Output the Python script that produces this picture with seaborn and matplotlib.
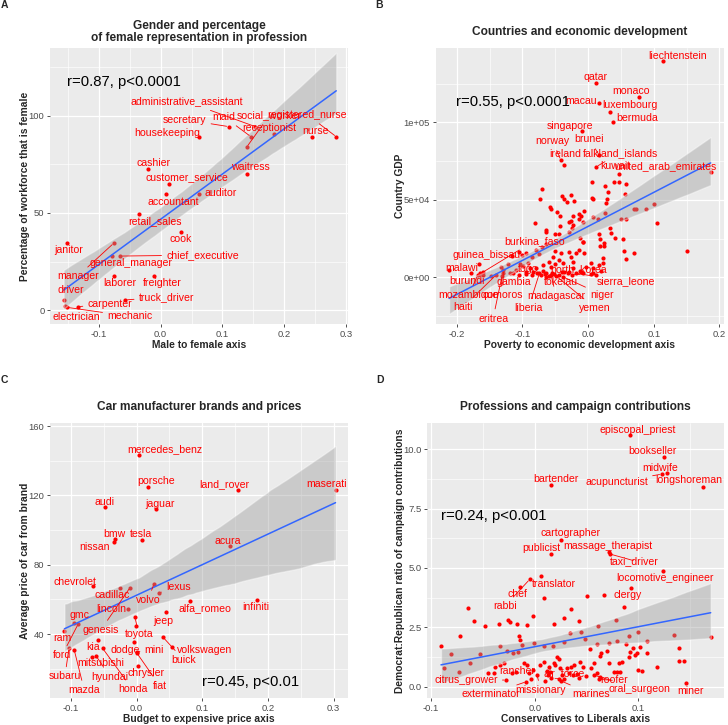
import matplotlib
matplotlib.use("Agg")
import matplotlib.pyplot as plt
import numpy as np
import pandas as pd
import seaborn as sns

# ---------------- Panel A: professions / gender ----------------
gender_names = ["administrative_assistant", "secretary", "housekeeping", "maid", "social_worker",
                "receptionist", "nurse", "registered_nurse", "cashier", "waitress", "customer_service",
                "accountant", "auditor", "retail_sales", "cook", "janitor", "manager", "general_manager",
                "chief_executive", "laborer", "freighter", "driver", "truck_driver", "carpenter",
                "electrician", "mechanic"]
gender_x = [0.153, 0.110, 0.062, 0.146, 0.139, 0.183, 0.245, 0.284, -0.021, 0.140, 0.013,
            0.008, 0.062, -0.035, 0.033, -0.151, -0.076, -0.078, -0.065, -0.075, -0.010,
            -0.157, -0.057, -0.134, -0.155, -0.152]
gender_y = [94.5, 94.5, 89.3, 89.3, 83.9, 90.6, 89.3, 89.3, 72.5, 70.3, 65.0, 59.8, 59.8,
            49.6, 40.0, 34.4, 34.4, 27.8, 27.8, 17.5, 17.5, 5.2, 5.2, 1.7, 2.1, 1.4]

# ---------------- Panel B: countries / GDP ----------------
country_names = ["liechtenstein", "qatar", "monaco", "macau", "luxembourg", "bermuda", "singapore",
                 "norway", "brunei", "ireland", "falkland_islands", "kuwait", "united_arab_emirates",
                 "burkina_faso", "guinea_bissau", "malawi", "burundi", "mozambique", "haiti", "eritrea",
                 "gambia", "comoros", "togo", "north_korea", "tokelau", "madagascar", "liberia",
                 "niger", "yemen", "sierra_leone"]
country_x = [0.1142, 0.0126, 0.0781, 0.0172, 0.0335, 0.0376, -0.0087, -0.0416, 0.0172, -0.0365,
             0.0126, 0.0472, 0.1867, -0.1598, -0.1664, -0.2116, -0.1644, -0.1679, -0.1400, -0.1309,
             -0.1190, -0.1289, -0.0832, -0.0294, -0.0513, -0.0563, -0.0741, -0.0385, -0.0487, -0.0183]
country_y = [139750, 125170, 116330, 112270, 106650, 100000, 94400, 75700, 78700, 72450,
             71360, 66650, 68130, 3420, 8580, 4710, 2580, 1490, 1490, 1160,
             2580, 4710, 3610, 3610, 2130, 1490, 2580, 390, 850, 2580]
# unlabelled countries
country_other_x = [0.0391, 0.0477, 0.0573, 0.0056, 0.0259, -0.0695, 0.0300, 0.0563, -0.0730, -0.0396,
                   -0.0259, -0.0360, -0.0324, -0.0218, 0.0056, 0.0081, 0.0289, 0.0274, 0.1010, 0.0695,
                   0.0730, 0.0883, -0.0578, -0.0568, -0.0477, -0.0426, -0.0056, -0.0132, -0.0102, -0.0142,
                   -0.0081, -0.0233, 0.0071, 0.0148, 0.0259, -0.0294, -0.0259, -0.0233, -0.0244, -0.0285,
                   -0.0426, -0.0802, -0.0644, -0.0635, -0.0507, -0.0446, 0.0502, 0.0578, 0.1046, 0.0335,
                   0.0345, 0.0172, 0.0187, -0.0122, -0.0081, 0.0406, 0.0537, 0.0239,
                   -0.0639, -0.0700, -0.0081, 0.0183, 0.0248, 0.0553, 0.0705, 0.1500, 0.0578, -0.1055,
                   -0.1005, -0.0944, -0.0791, -0.0741, -0.1157, -0.1222, -0.1324, -0.1096, -0.1035, -0.0985,
                   -0.0883, -0.0944, -0.0791, -0.0680, -0.0639, -0.0690, -0.0563, -0.0507, -0.0437, -0.0385,
                   -0.0360, -0.0309, -0.0233, -0.0122, -0.0081, -0.0030, 0.0046, 0.0071, 0.0172, 0.0224,
                   0.0224, 0.0071, -0.0259, -0.0183, -0.0132, -0.0056, -0.0537, -0.0598, -0.1780, -0.1600,
                   -0.0639, -0.0223, -0.0411, -0.0497, -0.0294, -0.0852, -0.0918,
                   -0.1150, -0.1050, -0.0950, -0.0850, -0.0780, -0.0720, -0.0660, -0.0600, -0.0550, -0.0450,
                   -0.0400, -0.0250, -0.0100, 0.0050, 0.0120, 0.0200, -0.1300, -0.1480]
country_other_y = [61680, 61680, 60000, 61680, 58910, 56970, 55040, 53940, 50330, 52460,
                   53100, 50330, 48780, 49420, 51360, 50330, 50330, 48130, 47100, 44260,
                   44260, 44260, 45550, 44070, 41940, 39550, 42970, 40840, 39550, 37420,
                   35870, 39550, 39100, 37420, 41680, 35870, 36320, 33740, 31610, 29420,
                   33290, 35230, 30520, 29030, 27940, 27940, 37420, 37420, 34840, 31610,
                   28780, 27940, 24710, 25550, 22780, 25550, 24520, 22320,
                   21490, 19360, 22970, 20190, 20190, 17160, 15480, 16970, 11810, 16520,
                   14390, 15480, 17610, 15030, 13740, 8580, 6450, 4710, 8390, 7290,
                   5810, 3610, 5810, 4260, 2580, 7940, 6840, 8580, 11160, 9030,
                   3610, 2580, 5810, 4260, 2580, 6840, 9030, 5810, 7940, 12260,
                   9030, 2580, 13290, 15480, 17610, 15870, 13290, 10070, 2970, 1480,
                   390, 10070, 15480, 17160, 16520, 13290, 9030,
                   2500, 1800, 2200, 1500, 2800, 1200, 2000, 1000, 3000, 1800,
                   3200, 1200, 3500, 2000, 1500, 4000, 3000, 800]

# ---------------- Panel C: car brands / price ----------------
car_names = ["mercedes_benz", "porsche", "land_rover", "maserati", "audi", "jaguar", "bmw", "tesla",
             "nissan", "acura", "chevrolet", "cadillac", "genesis", "lincoln", "volvo", "lexus",
             "alfa_romeo", "infiniti", "jeep", "gmc", "ram", "ford", "toyota", "", "buick",
             "volkswagen", "kia", "dodge", "mini", "fiat", "subaru", "mazda", "honda", "hyundai",
             "mitsubishi", "chrysler"]
car_x = [0.0035, 0.018, 0.155, 0.303, -0.048, 0.030, -0.0326, 0.0085, -0.035, 0.142, -0.067,
         -0.0255, -0.0102, -0.0128, 0.0264, 0.0345, 0.081, 0.184, 0.045, -0.0956, -0.110, -0.0893,
         -0.0026, -0.0011, 0.0396, 0.0534, -0.0595, -0.0041, 0.0009, 0.0, -0.1032, -0.0951,
         -0.0518, -0.062, -0.0681, 0.0015]
car_y = [143.1, 125.0, 123.1, 123.1, 113.3, 112.2, 95.0, 94.1, 93.1, 91.0, 67.9, 66.7, 66.7,
         54.6, 68.9, 63.8, 59.0, 59.6, 52.9, 46.5, 41.7, 45.6, 49.6, 44.6, 38.4, 32.7, 36.5,
         35.6, 29.8, 29.2, 31.7, 30.8, 31.7, 27.5, 26.7, 21.5]

# ---------------- Panel D: professions / donations ----------------
donor_names = ["episcopal_priest", "bookseller", "midwife", "acupuncturist", "longshoreman",
               "bartender", "cartographer", "publicist", "massage_therapist", "taxi_driver",
               "locomotive_engineer", "translator", "rabbi", "chef", "clergy", "citrus_grower",
               "exterminator", "rancher", "air_force", "missionary", "marines", "roofer",
               "oral_surgeon", "miner"]
donor_x = [0.0918, 0.1246, 0.1278, 0.1223, 0.162, 0.016, 0.0256, 0.016, 0.0716, 0.0722, 0.1233,
           0.0061, -0.0048, -0.0139, 0.0928, -0.0277, -0.0081, -0.0036, 0.0102, 0.0022, 0.025,
           0.0617, 0.0568, 0.1458]
donor_y = [10.59, 9.69, 9.01, 8.95, 8.41, 8.51, 6.18, 5.59, 5.67, 5.59, 4.86, 4.66, 4.52, 4.21,
           4.14, 0.28, 0.21, 0.31, 0.25, 0.49, 0.25, 0.31, 0.49, 0.14]
donor_other_x = [0.0087, 0.0504, 0.0665, -0.0643, 0.0857, 0.035, -0.0016, 0.0279, -0.0588, -0.0257,
                 -0.0241, -0.0347, 0.0786, -0.0074, 0.0183, -0.0476, 0.0424, 0.061, -0.017, -0.0723,
                 -0.0903, -0.0806, -0.053, -0.0626, -0.0877, -0.0726, -0.0337, -0.0267, -0.0209, -0.0164,
                 -0.0154, -0.0145, -0.0122, -0.001, 0.0087, 0.0176, 0.0279, 0.0337, 0.0446, 0.0482,
                 0.053, 0.060, 0.0639, 0.0697, 0.0713, 0.0793, 0.0882, 0.0906, 0.0947, 0.0986,
                 0.1017, 0.1082, 0.1082, 0.0992, 0.1345, 0.1696, 0.1393, 0.1387, 0.1435, 0.1178,
                 0.0992, 0.1034, 0.0841, 0.0809, 0.0761, 0.0793, 0.0819, 0.0713, 0.0632, 0.0568,
                 0.0542, 0.060, 0.0465, 0.0439, 0.0382, 0.035, 0.0311, 0.0328, 0.0369, 0.0408,
                 0.0215, 0.0231, 0.0183, 0.0198, 0.0135, 0.015, 0.0247, 0.0263, 0.0231, 0.0279,
                 0.0087, 0.0054, -0.0016, -0.0074, -0.0106, -0.0058, -0.0177, -0.0219, -0.0293, -0.0337,
                 -0.038, -0.0395, -0.045, 0.0118, 0.0125, 0.016, 0.0497, 0.0632, 0.0906, 0.0921,
                 0.0969, 0.0424]
donor_other_y = [3.72, 3.83, 3.86, 3.30, 3.34, 3.26, 2.98, 2.88, 2.77, 2.81,
                 2.74, 2.64, 2.81, 2.60, 2.63, 2.57, 2.77, 2.56, 2.63, 2.15,
                 1.73, 1.36, 1.39, 1.01, 0.80, 0.61, 1.71, 1.50, 1.41, 1.45,
                 2.14, 1.97, 1.76, 1.83, 1.71, 1.71, 1.87, 2.25, 2.29, 2.00,
                 1.59, 1.79, 1.43, 1.52, 1.83, 1.94, 1.80, 2.14, 1.62, 1.43,
                 1.68, 1.92, 1.41, 2.32, 2.18, 2.08, 1.62, 1.10, 1.10, 0.84,
                 0.70, 0.67, 1.05, 1.01, 0.61, 0.61, 0.61, 1.01, 1.29, 0.99,
                 0.77, 0.56, 0.84, 1.05, 0.91, 0.84, 0.77, 0.56, 0.49, 0.53,
                 1.26, 1.15, 1.01, 0.91, 0.84, 0.61, 0.77, 0.49, 0.31, 0.31,
                 1.05, 0.91, 0.70, 0.91, 1.01, 0.56, 0.63, 0.56, 0.99, 0.91,
                 0.84, 0.59, 0.59, 0.67, 0.49, 0.35, 0.45, 0.42, 1.26, 1.47,
                 1.34, 0.37]

# label placement: offset of the label centre from its point, in pixels, and leader segment flag
gender_labels = {
    "administrative_assistant": (-69, 25, True), "secretary": (-44, 7, True), "maid": (-27, 20, True),
    "social_worker": (23, 32, True), "registered_nurse": (-29, 22, True), "nurse": (3, 6, False),
    "housekeeping": (-32, 4, False), "receptionist": (-5, 6, False), "cashier": (6, 6, False),
    "waitress": (3, 7, False), "customer_service": (18, 7, False), "accountant": (8, -8, False),
    "auditor": (22, 1, False), "retail_sales": (16, -7, False), "cook": (0, -7, False),
    "janitor": (1, -7, False), "chief_executive": (82, 1, True), "general_manager": (19, -7, False),
    "manager": (-36, -33, True), "laborer": (6, -7, False), "freighter": (8, -7, False),
    "driver": (7, 10, False), "truck_driver": (41, 3, True), "carpenter": (32, 3, True),
    "electrician": (11, -11, False), "mechanic": (63, -9, True),
}
country_labels = {
    "liechtenstein": (15, 5, False), "qatar": (-1, 6, False), "monaco": (-8, 6, False),
    "macau": (-18, 2, False), "luxembourg": (20, 7, False), "bermuda": (24, 4, False),
    "singapore": (-12, 5, False), "norway": (-8, 19, True), "brunei": (-10, 16, True),
    "ireland": (1, 11, False), "falkland_islands": (24, 14, True), "kuwait": (-4, 8, False),
    "united_arab_emirates": (-45, 6, False), "burkina_faso": (51, 31, True),
    "guinea_bissau": (8, 9, True), "malawi": (13, 2, False), "burundi": (-13, -8, False),
    "mozambique": (-9, -20, True), "haiti": (-33, -32, True), "eritrea": (-9, -43, True),
    "gambia": (4, -9, False), "comoros": (-1, -25, True), "togo": (-5, 3, False),
    "north_korea": (10, 3, False), "tokelau": (7, -8, False), "madagascar": (5, -21, True),
    "liberia": (-11, -35, True), "niger": (39, -18, True), "yemen": (39, -32, True),
    "sierra_leone": (50, -8, True),
}
car_labels = {
    "mercedes_benz": (26, 6, False), "porsche": (8, 6, False), "land_rover": (-14, 6, False),
    "maserati": (-9, 6, False), "audi": (-1, 5, False), "jaguar": (4, 5, False), "bmw": (-1, 5, False),
    "tesla": (-1, 6, False), "nissan": (-19, -5, False), "acura": (-2, 5, False),
    "chevrolet": (-18, 4, False), "cadillac": (-8, -7, False), "lexus": (19, 6, True),
    "volvo": (-6, -16, True), "lincoln": (-17, 0, False), "alfa_romeo": (15, -7, False),
    "infiniti": (-2, -7, False), "genesis": (-29, -42, True), "gmc": (6, 8, False),
    "jeep": (-3, -9, False), "ram": (-2, -7, False), "toyota": (4, -17, True),
    "ford": (-16, -31, True), "subaru": (-4, -28, True), "mazda": (10, -40, True),
    "mitsubishi": (9, -6, False), "kia": (-5, -7, False), "hyundai": (14, -21, True),
    "honda": (30, -41, True), "dodge": (-9, -8, False), "mini": (17, 2, True),
    "chrysler": (8, -7, False), "fiat": (23, -33, True), "buick": (21, -23, True),
    "volkswagen": (33, -3, False),
}
donor_labels = {
    "episcopal_priest": (8, 5, False), "bookseller": (-12, 6, False), "midwife": (-7, 5, False),
    "acupuncturist": (-45, -8, True), "longshoreman": (-14, 7, False), "bartender": (5, 6, False),
    "cartographer": (9, 7, False), "publicist": (-10, 6, False), "massage_therapist": (-1, 6, False),
    "taxi_driver": (25, -7, True), "locomotive_engineer": (2, -7, False), "translator": (13, -8, False),
    "chef": (-3, -7, False), "rabbi": (-25, -27, True), "clergy": (-3, -7, False),
    "citrus_grower": (-40, 0, True), "exterminator": (-35, -12, True), "rancher": (-14, 8, False),
    "air_force": (19, 8, False), "missionary": (4, -15, True), "marines": (30, -13, True),
    "roofer": (15, -1, True), "oral_surgeon": (46, -14, True), "miner": (5, -8, False),
}

RED = "#FF0000"
BLUE = "#3366FF"

sns.set_theme(style="darkgrid")
plt.rcParams["font.family"] = ["Liberation Sans", "DejaVu Sans"]

fig = plt.figure(figsize=(7.28, 7.25), dpi=100)


def minor_between(ticks, lim):
    t = np.asarray(ticks, float)
    step = t[1] - t[0]
    ext = np.concatenate([[t[0] - step], t, [t[-1] + step]])
    mids = (ext[:-1] + ext[1:]) / 2
    return [m for m in mids if lim[0] <= m <= lim[1]]


def draw_panel(rect, df, labels, title, xlabel, ylabel, xlim, ylim, xticks, xtl, yticks, ytl,
               rtext, rpos, letter, letter_pos):
    ax = fig.add_axes(rect)
    ax.set_facecolor("#EBEBEB")
    for s in ax.spines.values():
        s.set_visible(False)

    sns.scatterplot(data=df, x="x", y="y", color=RED, s=9, linewidth=0, ax=ax, zorder=2)
    sns.regplot(data=df, x="x", y="y", scatter=False, color=BLUE, ci=95, n_boot=1000, seed=7,
                line_kws={"lw": 1.1, "zorder": 3}, ax=ax)
    band = ax.collections[-1]
    band.set_facecolor("#999999")
    band.set_alpha(0.4)
    band.set_zorder(2.5)

    for name, px, py in zip(df["name"], df["x"], df["y"]):
        if name not in labels:
            continue
        dx, dy, seg = labels[name]
        arrow = dict(arrowstyle="-", color=RED, lw=0.6, shrinkA=1, shrinkB=1.5) if seg else None
        ax.annotate(name, (px, py), xytext=(dx, dy), textcoords="offset pixels",
                    ha="center", va="center", color=RED, fontsize=7.6, zorder=5,
                    arrowprops=arrow)

    ax.set_xlim(xlim)
    ax.set_ylim(ylim)
    ax.set_xticks(xticks, labels=xtl)
    ax.set_yticks(yticks, labels=ytl)
    ax.set_xticks(minor_between(xticks, xlim), minor=True)
    ax.set_yticks(minor_between(yticks, ylim), minor=True)
    ax.grid(which="major", color="white", lw=0.9)
    ax.grid(which="minor", color="white", lw=0.45)
    ax.set_axisbelow(True)
    ax.tick_params(which="major", length=2.5, width=0.6, color="#333333", labelsize=6.8,
                   labelcolor="#4D4D4D", pad=1.5, bottom=True, left=True)
    ax.tick_params(which="minor", length=0)

    ax.set_xlabel(xlabel, fontsize=7.4, fontweight="bold", labelpad=1)
    ax.set_ylabel(ylabel, fontsize=7.4, fontweight="bold", labelpad=-1.2)
    h_px = rect[3] * 725
    ax.text(0.5, 1 + 16 / h_px, title, transform=ax.transAxes, ha="center", va="center",
            fontsize=8.6, fontweight="bold", linespacing=1.0)
    ax.text(rpos[0], rpos[1], rtext, transform=ax.transAxes, ha="center", va="center",
            fontsize=10.7, color="black", zorder=6)
    fig.text(letter_pos[0] / 728, 1 - letter_pos[1] / 725, letter, fontsize=7.5,
             fontweight="bold", ha="center", va="center")
    return ax


gender_df = pd.DataFrame({"name": gender_names, "x": gender_x, "y": gender_y})
country_df = pd.DataFrame({"name": country_names + [""] * len(country_other_x),
                           "x": country_x + country_other_x, "y": country_y + country_other_y})
car_df = pd.DataFrame({"name": car_names, "x": car_x, "y": car_y})
donor_df = pd.DataFrame({"name": donor_names + [""] * len(donor_other_x),
                         "x": donor_x + donor_other_x, "y": donor_y + donor_other_y})

draw_panel([50 / 728, 1 - 324 / 725, 298 / 728, 276 / 725], gender_df, gender_labels,
           "Gender and percentage\nof female representation in profession",
           "Male to female axis", "Percentage of workforce that is female",
           (-0.179, 0.303), (-7.2, 135),
           [-0.1, 0.0, 0.1, 0.2, 0.3], ["-0.1", "0.0", "0.1", "0.2", "0.3"],
           [0, 50, 100], ["0", "50", "100"],
           "r=0.87, p<0.0001", (0.247, 0.877), "A", (4.5, 4.5))

draw_panel([435.7 / 728, 1 - 324 / 725, 288.3 / 728, 276 / 725], country_df, country_labels,
           "Countries and economic development",
           "Poverty to economic development axis", "Country GDP",
           (-0.232, 0.207), (-30130, 147950),
           [-0.2, -0.1, 0.0, 0.1, 0.2], ["-0.2", "-0.1", "0.0", "0.1", "0.2"],
           [0, 50000, 100000], ["0e+00", "5e+04", "1e+05"],
           "r=0.55, p<0.0001", (0.269, 0.805), "B", (379.5, 5))

draw_panel([50 / 728, 1 - 698.3 / 725, 298 / 728, 275 / 725], car_df, car_labels,
           "Car manufacturer brands and prices",
           "Budget to expensive price axis", "Average price of car from brand",
           (-0.132, 0.322), (2.9, 161.6),
           [-0.1, 0.0, 0.1, 0.2, 0.3], ["-0.1", "0.0", "0.1", "0.2", "0.3"],
           [40, 80, 120, 160], ["40", "80", "120", "160"],
           "r=0.45, p<0.01", (0.674, 0.059), "C", (4.5, 380))

draw_panel([427.3 / 728, 1 - 698 / 725, 296.7 / 728, 274.7 / 725], donor_df, donor_labels,
           "Professions and campaign contributions",
           "Conservatives to Liberals axis", "Democrat:Republican ratio of campaign contributions",
           (-0.1035, 0.1824), (-0.476, 11.09),
           [-0.1, 0.0, 0.1], ["-0.1", "0.0", "0.1"],
           [0, 2.5, 5, 7.5, 10], ["0.0", "2.5", "5.0", "7.5", "10.0"],
           "r=0.24, p<0.001", (0.224, 0.6625), "D", (380.3, 380))

fig.savefig("out.png", dpi=100)
